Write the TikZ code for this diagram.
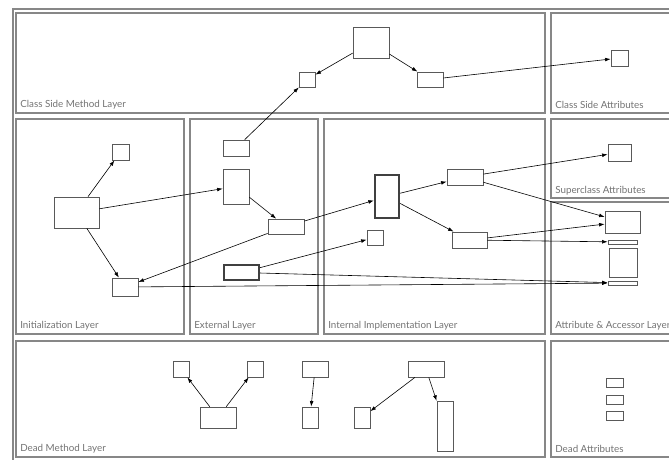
\documentclass[tikz,border=0pt]{standalone}
\usepackage{fontspec}
\setmainfont{Lato}
\usetikzlibrary{arrows.meta}
\usepackage{xcolor}
\definecolor{layergray}{rgb}{0.53,0.53,0.53}
\definecolor{boxgray}{rgb}{0.35,0.35,0.35}

\begin{document}
\begin{tikzpicture}[x=1pt, y=-1pt, -{Latex[length=5.5pt,width=3.8pt]}, line width=0.6pt,
    box/.style = {draw=boxgray, fill=white, line width=0.8pt, inner sep=0pt, minimum width=#1},
    heavy/.style = {box=#1, draw=black!75, line width=2.4pt},
    layer/.style = {draw=layergray, line width=1.2pt, -},
    tag/.style = {anchor=west, inner sep=0pt, text=black!55, font=\fontsize{9.8}{11}\selectfont}]
            \clip (0,0) rectangle (669,459);
            % layers
            \draw[layer] (13,9) rectangle (690,480);
            \draw[layer] (16,13) rectangle (545,113);
            \draw[layer] (551,13) rectangle (690,113);
            \draw[layer] (16,119) rectangle (184,334);
            \draw[layer] (190,119) rectangle (318,334);
            \draw[layer] (324,119) rectangle (545,334);
            \draw[layer] (551,119) rectangle (690,198);
            \draw[layer] (551,202) rectangle (690,334);
            \draw[layer] (16,341) rectangle (545,457);
            \draw[layer] (551,341) rectangle (690,457);
            \node[tag](Lcsm) at (20,105){Class Side Method Layer};
            \node[tag](Lcsa) at (555,105){Class Side Attributes};
            \node[tag](Lini) at (20,326){Initialization Layer};
            \node[tag](Lext) at (194,326){External Layer};
            \node[tag](Lint) at (328,326){Internal Implementation Layer};
            \node[tag](Lsup) at (555,191){Superclass Attributes};
            \node[tag](Lacc) at (555,326){Attribute \& Accessor Layer};
            \node[tag](Ldm) at (20,449){Dead Method Layer};
            \node[tag](Lda) at (555,449){Dead Attributes};
            % class side
            \node[box=36, minimum height=31](A) at (371,42.5){};
            \node[box=16, minimum height=15](B) at (307,79.5){};
            \node[box=26, minimum height=15](C) at (430,79.5){};
            \node[box=17, minimum height=16](D) at (619.5,58){};
            % initialization
            \node[box=17, minimum height=16](I1) at (120.5,152){};
            \node[box=45, minimum height=31](I2) at (76.5,212.5){};
            \node[box=26, minimum height=18](I3) at (125,287){};
            % external
            \node[box=26, minimum height=16](E1) at (236,148){};
            \node[box=26, minimum height=35](E2) at (236,186.5){};
            \node[box=36, minimum height=15](E3) at (286,226.5){};
            \node[heavy=35, minimum height=15](E4) at (241.5,272.5){};
            % internal implementation
            \node[heavy=24, minimum height=43](N1) at (387,196.5){};
            \node[box=16, minimum height=15](N2) at (375,237.5){};
            \node[box=36, minimum height=16](N3) at (465,177){};
            \node[box=35, minimum height=16](N4) at (469.5,240){};
            % attributes
            \node[box=23, minimum height=17](S1) at (619.5,152.5){};
            \node[box=35, minimum height=22](T1) at (622.5,222){};
            \node[box=29, minimum height=4](T2) at (622.5,242){};
            \node[box=28, minimum height=29](T3) at (623,262.5){};
            \node[box=29, minimum height=4](T4) at (622.5,283){};
            % dead methods
            \node[box=16, minimum height=16](M1) at (181,369){};
            \node[box=16, minimum height=16](M2) at (255,369){};
            \node[box=36, minimum height=21](M3) at (218,417.5){};
            \node[box=26, minimum height=16](M4) at (315,369){};
            \node[box=16, minimum height=21](M5) at (310,417.5){};
            \node[box=36, minimum height=16](M6) at (426,369){};
            \node[box=16, minimum height=21](M7) at (362,417.5){};
            \node[box=16, minimum height=50](M8) at (445,426){};
            % dead attributes
            \node[box=17, minimum height=9](Z1) at (614.5,382.5){};
            \node[box=17, minimum height=9](Z2) at (614.5,399.5){};
            \node[box=17, minimum height=9](Z3) at (614.5,416){};
            \path
            (A) edge (B)
            (A) edge (C)
            (C) edge (D)
            (E1) edge (B)
            (I2) edge (I1)
            (I2) edge (E2)
            (I2) edge (I3)
            (E2) edge (E3)
            (E3) edge (I3)
            (E3) edge (N1)
            (E4) edge (N2)
            (E4) edge (T4)
            (I3) edge (T4)
            (N1) edge (N3)
            (N1) edge (N4)
            (N3) edge (S1)
            (N3) edge (T1)
            (N4) edge (T1)
            (N4) edge (T2)
            (M3) edge (M1)
            (M3) edge (M2)
            (M4) edge (M5)
            (M6) edge (M7)
            (M6) edge (M8)
            ;
        \end{tikzpicture}
\end{document}
